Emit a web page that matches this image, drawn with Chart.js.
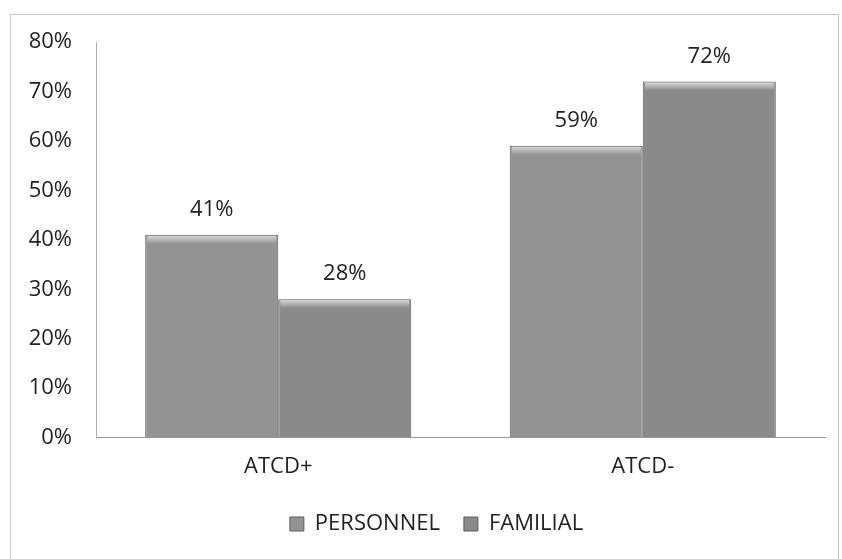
<!DOCTYPE html>
<html>
<head>
<meta charset="utf-8">
<script src="https://cdn.jsdelivr.net/npm/chart.js@4/dist/chart.umd.min.js"></script>
<style>
  html, body { margin: 0; padding: 0; background: #fff; }
  #wrap { width: 842px; height: 559px; position: relative; }
</style>
</head>
<body>
<div id="wrap"><canvas id="chart" width="842" height="559"></canvas></div>
<script>
const categories = ['ATCD+', 'ATCD-'];
const personnel = [41, 59];
const familial = [28, 72];
const yTicks = [0, 10, 20, 30, 40, 50, 60, 70, 80];

const FONT = '"Open Sans", "Liberation Sans", sans-serif';
const TEXT = '#222';

// outer frame around the whole chart; legend nudged under the plot
const framePlugin = {
  id: 'frame',
  afterLayout(chart) {
    const lg = chart.legend;
    lg.left += 24;
    lg.right += 24;
    lg.top -= 7;
    lg.bottom -= 7;
  },
  beforeDraw(chart) {
    const c = chart.ctx;
    c.save();
    c.strokeStyle = '#c4c4c4';
    c.lineWidth = 1;
    c.strokeRect(10.5, 14.5, 828, 560);
    c.restore();
  }
};

// value labels above each bar, plus a light bevel on top of the bars
const barExtras = {
  id: 'barExtras',
  afterDatasetsDraw(chart) {
    const c = chart.ctx;
    c.save();
    chart.data.datasets.forEach((ds, i) => {
      chart.getDatasetMeta(i).data.forEach((bar, j) => {
        const left = bar.x - bar.width / 2;
        const g = c.createLinearGradient(0, bar.y, 0, bar.y + 9);
        g.addColorStop(0, 'rgba(230,230,230,0.9)');
        g.addColorStop(1, 'rgba(230,230,230,0)');
        c.fillStyle = g;
        c.fillRect(left + 2, bar.y + 1, bar.width - 4, 9);
        c.fillStyle = TEXT;
        c.font = '22px ' + FONT;
        c.textAlign = 'center';
        c.textBaseline = 'middle';
        c.fillText(ds.data[j] + '%', bar.x, bar.y - 25);
      });
    });
    c.restore();
  }
};

new Chart(document.getElementById('chart').getContext('2d'), {
  type: 'bar',
  data: {
    labels: categories,
    datasets: [
      {
        label: 'PERSONNEL',
        data: personnel,
        backgroundColor: '#939393',
        borderColor: '#5e5e5e',
        borderWidth: 1
      },
      {
        label: 'FAMILIAL',
        data: familial,
        backgroundColor: '#8a8a8a',
        borderColor: '#5e5e5e',
        borderWidth: 1
      }
    ]
  },
  options: {
    responsive: false,
    animation: false,
    layout: { padding: { left: 0, top: 42, right: 17, bottom: 7 } },
    datasets: { bar: { categoryPercentage: 0.73, barPercentage: 1 } },
    scales: {
      x: {
        grid: { display: false, drawTicks: false },
        border: { color: '#9a9a9a' },
        ticks: { color: TEXT, font: { size: 22, family: FONT }, padding: 16 }
      },
      y: {
        min: 0,
        max: 80,
        afterFit(scale) { scale.width = 96; },
        afterBuildTicks(scale) { scale.ticks = yTicks.map(v => ({ value: v })); },
        grid: { display: false, drawTicks: false },
        border: { color: '#b0b0b0' },
        ticks: {
          color: TEXT,
          font: { size: 22, family: FONT },
          padding: 24,
          callback: v => v + '%'
        }
      }
    },
    plugins: {
      tooltip: { enabled: false },
      legend: {
        position: 'bottom',
        labels: {
          color: TEXT,
          font: { size: 22, family: FONT },
          boxWidth: 14,
          boxHeight: 14,
          padding: 24
        }
      }
    }
  },
  plugins: [framePlugin, barExtras]
});
</script>
</body>
</html>
